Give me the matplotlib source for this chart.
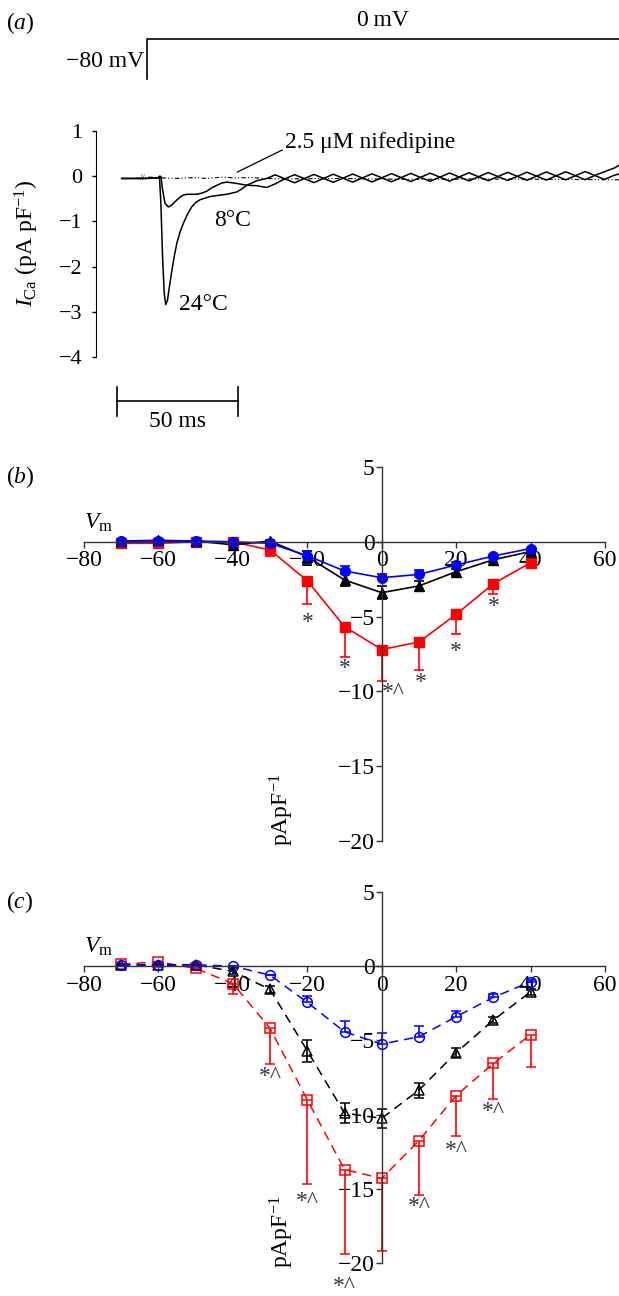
import matplotlib
matplotlib.use("Agg")
import matplotlib.pyplot as plt

plt.rcParams["font.family"] = ["Liberation Serif", "DejaVu Serif"]
plt.rcParams["mathtext.fontset"] = "custom"
plt.rcParams["mathtext.rm"] = "Liberation Serif"
plt.rcParams["mathtext.it"] = "Liberation Serif:italic"

# ---- panel (a): example currents, time in ms, current in pA/pF ----
t_24c = [10.6, 20, 25.5, 26.2, 26.8, 27.5, 28.2, 28.8, 29.5, 30.3, 31.3, 32.4,
         33.4, 34.8, 36.1, 37.8, 39.5, 41.2, 43.0, 47.1, 51, 54.0, 58.1, 60,
         62.3, 66.4, 70.5,
         74, 78, 82, 86, 90, 94, 98, 102, 106, 110, 114, 118, 122, 126, 130,
         134, 138, 142, 146, 150, 154, 158, 162, 166, 170, 174, 178, 182, 186,
         190, 194, 198, 202, 206, 210, 214, 216]
i_24c = [-0.05, -0.05, -0.04, 0.0, -0.6, -1.8, -2.6, -2.84, -2.75, -2.45, -2.1, -1.75,
         -1.48, -1.22, -1.04, -0.84, -0.68, -0.58, -0.52, -0.45, -0.42, -0.40, -0.35, -0.29,
         -0.2, -0.1, -0.05,
         0.03, -0.058, -0.146, -0.053, 0.039, -0.049, -0.136, -0.044, 0.048, -0.039, -0.127,
         -0.035, 0.057, -0.030, -0.118, -0.026, 0.067, -0.021, -0.109, -0.017, 0.076,
         -0.012, -0.100, -0.007, 0.085, -0.003, -0.091, 0.002, 0.094, 0.007, -0.081,
         0.011, 0.103, 0.016, -0.072, 0.02, 0.05]

t_8c = [10.6, 20, 26.2, 26.8, 27.5, 28.5, 29.9, 31, 32, 33.5, 34.8, 36, 37.5,
        41.7, 44, 45.8, 48, 50, 52, 54, 58.1, 62.3, 66.4, 70.5,
        74, 78, 82, 86, 90, 94, 98, 102, 106, 110, 114, 118, 122, 126, 130,
        134, 138, 142, 146, 150, 154, 158, 162, 166, 170, 174, 178, 182, 186,
        190, 194, 198, 202, 206, 210, 214, 216]
i_8c = [-0.05, -0.05, -0.04, 0.0, -0.3, -0.6, -0.68, -0.65, -0.6, -0.52, -0.46, -0.42, -0.40,
        -0.40, -0.37, -0.33, -0.25, -0.2, -0.15, -0.13, -0.16, -0.2, -0.21, -0.25,
        -0.17, -0.058, 0.034, -0.053, -0.141, -0.049, 0.044, -0.044, -0.132, -0.039, 0.053,
        -0.035, -0.123, -0.030, 0.062, -0.026, -0.113, -0.021, 0.071, -0.017, -0.104,
        -0.012, 0.080, -0.007, -0.095, -0.003, 0.089, 0.002, -0.086, 0.007, 0.098,
        0.011, -0.077, 0.016, 0.10, 0.18, 0.24]

t_nif = [10.6, 16, 22, 28, 34, 40, 46, 52, 58, 64, 70, 80, 100, 130, 160, 190, 216]
i_nif = [-0.05, -0.05, -0.02, -0.04, -0.05, -0.03, -0.05, -0.02, -0.04, -0.03, -0.05,
         -0.06, -0.05, -0.07, -0.06, -0.07, -0.08]

step_on_ms = 21.1
scale_bar_ms = 50

# ---- panels (b) and (c): I-V relations ----
vm = [-70, -60, -50, -40, -30, -20, -10, 0, 10, 20, 30, 40]

b_red = [-0.1, -0.1, 0.0, 0.0, -0.55, -2.6, -5.67, -7.2, -6.7, -4.85, -2.8, -1.4]
b_red_err = [0, 0, 0, 0, 0.38, 1.55, 2.0, 2.1, 1.9, 1.3, 0.7, 0.3]
b_black = [0.05, 0.1, 0.05, -0.2, 0.05, -1.0, -2.55, -3.4, -2.95, -2.0, -1.2, -0.65]
b_black_err = [0.05, 0.05, 0.05, 0.05, 0.05, 0.4, 0.4, 0.45, 0.33, 0.2, 0.12, 0.1]
b_blue = [0.05, 0.05, 0.05, 0.0, -0.1, -0.93, -1.95, -2.4, -2.18, -1.55, -0.95, -0.45]
b_blue_err = [0, 0, 0, 0, 0, 0.33, 0.33, 0.22, 0.29, 0.22, 0.1, 0.05]
b_marks = [(-20, -5.4, "*"), (-10, -8.5, "*"), (3, -10.1, "*^"),
           (10.5, -9.4, "*"), (20, -7.3, "*"), (30, -4.3, "*")]

c_red = [0.13, 0.3, -0.15, -1.17, -4.19, -9.0, -13.7, -14.3, -11.75, -8.72, -6.55, -4.62]
c_red_err = [0, 0, 0, 0.67, 2.4, 5.66, 5.7, 4.9, 3.7, 2.7, 2.4, 2.2]
c_black = [0.1, 0.1, 0.1, -0.35, -1.57, -5.7, -9.9, -10.25, -8.35, -5.83, -3.63, -1.73]
c_black_err = [0.05, 0.05, 0.05, 0.2, 0.25, 0.74, 0.65, 0.62, 0.5, 0.3, 0.2, 0.2]
c_blue = [0.1, 0.05, 0.1, 0.0, -0.6, -2.44, -4.42, -5.25, -4.75, -3.4, -2.1, -1.05]
c_blue_err = [0, 0, 0, 0, 0, 0.42, 0.72, 0.78, 0.72, 0.4, 0.2, 0.15]
c_marks = [(-30, -7.45, "*^"), (-20, -15.85, "*^"), (-10, -21.6, "*^"),
           (10, -16.2, "*^"), (20, -12.4, "*^"), (30, -9.8, "*^")]

W, H = 619, 1296
FS = 17


def px_axes(fig, x0, x1, y_top, y_bot):
    return fig.add_axes([x0 / W, 1 - y_bot / H, (x1 - x0) / W, (y_bot - y_top) / H])


def iv_axes(ax):
    ax.set_xlim(-80, 60)
    ax.set_ylim(-20, 5)
    ax.spines["left"].set_position(("data", 0))
    ax.spines["bottom"].set_position(("data", 0))
    for s in ("top", "right"):
        ax.spines[s].set_visible(False)
    for s in ("left", "bottom"):
        ax.spines[s].set_linewidth(1.0)
        ax.spines[s].set_color("#333333")
    ax.set_xticks(range(-80, 61, 20))
    ax.set_yticks(range(-20, 6, 5))
    ax.tick_params(direction="out", length=4, width=1, labelsize=FS, color="#333333")
    ax.tick_params(axis="x", pad=2)
    ax.tick_params(axis="y", pad=1)
    ax.patch.set_alpha(0)
    ax.text(-76, 1.3, r"$V_{\mathrm{m}}$", fontsize=FS, ha="center", va="center")
    ax.text(-26.8, -17.9, r"pApF$^{-1}$", fontsize=FS, rotation=90,
            ha="center", va="center")


def main():
    fig = plt.figure(figsize=(W / 100, H / 100), dpi=100)

    # ---------------- (a) ----------------
    ax = px_axes(fig, 96, 619, 131, 357)
    ax.set_xlim(0, 216)
    ax.set_ylim(-4, 1)
    for s in ("top", "right", "bottom"):
        ax.spines[s].set_visible(False)
    ax.set_xticks([])
    ax.set_yticks(range(-4, 2))
    ax.tick_params(axis="y", direction="out", length=3, width=1, labelsize=16, pad=7)
    ax.patch.set_alpha(0)

    ax.plot(t_nif, i_nif, color="black", lw=0.8, ls=(0, (4, 2, 1, 2, 1, 2)), clip_on=False)
    ax.plot(t_24c, i_24c, color="black", lw=1.1, clip_on=False)
    ax.plot(t_8c, i_8c, color="black", lw=1.1, clip_on=False)
    ax.text(19, -0.05, "//", fontsize=6, ha="center", va="center")

    # voltage protocol
    ax.plot([step_on_ms, step_on_ms, 216], [2.16, 3.04, 3.04], color="black", lw=1.2,
            clip_on=False)
    ax.text(step_on_ms - 1.3, 2.53, "\u221280 mV", fontsize=FS, ha="right", va="center")
    ax.text(118.6, 3.44, "0\u2009mV", fontsize=FS, ha="center", va="center")

    # scale bar
    sb0 = 8.7
    ax.plot([sb0, sb0 + scale_bar_ms], [-4.98, -4.98], color="black", lw=1.2, clip_on=False)
    for xb in (sb0, sb0 + scale_bar_ms):
        ax.plot([xb, xb], [-4.67, -5.31], color="black", lw=1.2, clip_on=False)
    ax.text(sb0 + scale_bar_ms / 2, -5.42, f"{scale_bar_ms} ms", fontsize=FS,
            ha="center", va="center")

    ax.annotate("2.5 \u03bcM nifedipine", xy=(58.3, 0.09), xytext=(78.1, 0.75),
                fontsize=FS, ha="left", va="center",
                arrowprops=dict(arrowstyle="-", color="black", lw=0.9,
                                shrinkA=0, shrinkB=0,
                                relpos=(0, 0.2)))
    ax.text(56.2, -0.97, "8\u00b0C", fontsize=FS, ha="center", va="center")
    ax.text(44.2, -2.84, "24\u00b0C", fontsize=FS, ha="center", va="center")

    fig.text(27 / W, 1 - 243 / H, r"$I_{\mathrm{Ca}}$ (pA pF$^{-1}$)", fontsize=FS,
             rotation=90, ha="center", va="center")
    fig.text(20 / W, 1 - 23 / H, r"($a$)", fontsize=FS, ha="center", va="center")

    # ---------------- (b) ----------------
    ax = px_axes(fig, 84, 605, 467, 841)
    iv_axes(ax)
    ek = dict(capsize=3.5, elinewidth=1.2, capthick=1.2, lw=1.2, ms=7)
    ax.errorbar(vm, b_red, yerr=[b_red_err, [0] * len(vm)], fmt="-s", color="red",
                **ek)
    ax.errorbar(vm, b_black, yerr=b_black_err, fmt="-^", color="black", **ek)
    ax.errorbar(vm, b_blue, yerr=[[0] * len(vm), b_blue_err], fmt="-o", color="blue",
                **ek)
    for x, y, s in b_marks:
        ax.text(x, y, s, fontsize=FS, ha="center", va="center", color="#333333")
    fig.text(20 / W, 1 - 477 / H, r"($b$)", fontsize=FS, ha="center", va="center")

    # ---------------- (c) ----------------
    ax = px_axes(fig, 84, 605, 892, 1263)
    iv_axes(ax)
    ek = dict(capsize=3.5, elinewidth=1.2, capthick=1.2, lw=1.1, ms=7,
              mfc="none", mew=1.1, dashes=(6, 4))
    ax.errorbar(vm, c_red, yerr=[c_red_err, [0] * len(vm)], fmt="-s", color="red",
                **ek)
    ax.errorbar(vm, c_black, yerr=c_black_err, fmt="-^", color="black", **ek)
    ax.errorbar(vm, c_blue, yerr=[[0] * len(vm), c_blue_err], fmt="-o", color="blue",
                **ek)
    for x, y, s in c_marks:
        ax.text(x, y, s, fontsize=FS, ha="center", va="center", color="#333333",
                clip_on=False)
    fig.text(20 / W, 1 - 902 / H, r"($c$)", fontsize=FS, ha="center", va="center")

    fig.savefig("out.png", dpi=100)


if __name__ == "__main__":
    main()
